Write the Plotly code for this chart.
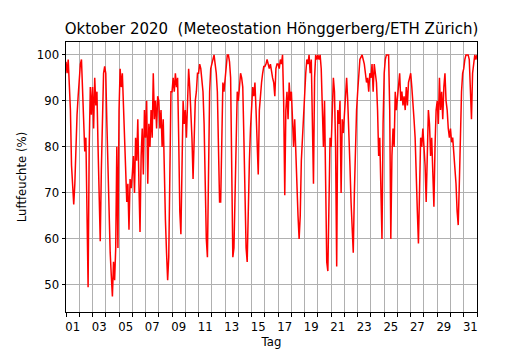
import numpy as np
import plotly.graph_objects as go

# Relative humidity (%) at 2-hour steps, Oct 1 00:00 ... Nov 1 00:00 (12 values per day)
humidity = [
    98.5, 96, 99, 93, 88, 76, 70, 67.5, 72, 82, 87, 91,            # 01
    95, 98, 99, 93, 84, 79, 82, 68, 49.5, 80, 93, 87,              # 02
    93, 84, 95, 89, 92, 80, 70, 59.5, 75, 90, 96, 97.5,            # 03
    96, 85, 75, 63, 57, 52, 47.5, 55, 51, 58, 80, 58,              # 04
    88, 97, 93, 96, 88, 84, 76, 68, 72, 62, 73, 71,                # 05
    74, 78, 70, 82, 77, 86, 72, 61.5, 78, 84, 74, 88,              # 06
    82, 90, 72, 85, 80, 88, 82, 96, 86, 90, 84, 91,                # 07
    90, 84, 88, 80, 86, 72, 64, 57, 51, 56, 78, 92,                # 08
    92, 95, 92, 96, 93, 95, 82, 66, 61, 78, 90, 85,                # 09
    88, 82, 92, 97, 93, 88, 82, 73, 80, 90, 92, 96,                # 10
    96, 98, 97, 95, 92, 85, 70, 60, 56, 72, 92, 97,                # 11
    98, 99, 100, 98, 96, 92, 80, 68, 68, 84, 94, 92,               # 12
    95, 97, 100, 100, 98.5, 95, 80, 56, 58, 72, 87, 92,            # 13
    90, 94, 96, 95, 93, 82, 70, 58, 55, 70, 77, 84,                # 14
    88, 93, 91, 94, 88, 80, 74, 88, 92, 94, 96, 97.5,              # 15
    97.5, 98, 99, 98, 97, 98, 96, 95, 94, 91, 97, 98,              # 16
    98, 97, 99, 98, 100, 90, 69.5, 88, 92, 86, 94, 90,             # 17
    92, 85, 80, 86, 78, 72, 65, 60, 65, 77, 82, 88,                # 18
    92, 96, 99, 98, 100, 96, 99, 85, 72, 95, 100, 99,              # 19
    100, 99, 100, 97, 86, 80, 90, 72, 55, 53, 70, 82,              # 20
    80, 90, 95, 92, 80, 54, 88, 85, 90, 70, 86, 83,                # 21
    88, 92, 95, 90, 84, 76, 68, 60, 57, 70, 80, 88,                # 22
    92, 97, 99, 99.5, 100, 99, 98, 96, 94, 95, 92, 96,             # 23
    95, 98, 92, 98, 96, 94, 88, 78, 82, 70, 60, 85,                # 24
    96, 99, 100, 100, 100, 88, 60, 78, 84, 80, 92, 88,             # 25
    91, 94, 96, 90, 92, 89, 91, 88, 93, 89, 94, 95,                # 26
    96, 93, 88, 86, 82, 76, 66, 59, 72, 82, 80, 84,                # 27
    80, 76, 68, 82, 88, 85, 78, 82, 74, 67, 80, 88,                # 28
    90, 85, 95, 88, 92, 86, 93, 96, 90, 88, 84, 82,                # 29
    84, 81, 82, 79, 76, 72, 66, 63, 72, 85, 92, 96,                # 30
    97, 99, 100, 100, 100, 99, 92, 86, 96, 99, 100, 99,            # 31
    100,
]
samples_per_day = 12

day_label_pos = [0.5 + 2 * k for k in range(16)]
day_labels = ["01", "03", "05", "07", "09", "11", "13", "15",
              "17", "19", "21", "23", "25", "27", "29", "31"]
y_ticks = [50, 60, 70, 80, 90, 100]

t = np.arange(len(humidity)) / samples_per_day

fig = go.Figure()
fig.add_trace(go.Scatter(x=t, y=humidity, mode="lines",
                         line=dict(color="#ff0000", width=1.5),
                         hoverinfo="skip", showlegend=False))

# page body has an 8px margin, so the figure is laid out 8px smaller/offset
W, H = 522, 342
grid = "#b0b0b0"
font = "DejaVu Sans, Verdana, sans-serif"
fig.update_layout(
    width=W, height=H,
    margin=dict(l=58, r=53, t=34, b=38, autoexpand=False),
    paper_bgcolor="white", plot_bgcolor="white",
    font=dict(family=font, size=11.7, color="black"),
    title=dict(text="Oktober 2020  (Meteostation Hönggerberg/ETH Zürich)",
               x=(58 + 469) / 2 / W, xanchor="center",
               y=1 - 21 / H, yanchor="middle",
               font=dict(size=15, color="black")),
    xaxis=dict(range=[0, 31], tickvals=day_label_pos, ticktext=day_labels,
               ticks="outside", ticklen=3.5, tickcolor="rgba(0,0,0,0)",
               showgrid=False, zeroline=False,
               showline=True, mirror=True, linecolor="black", linewidth=1,
               minor=dict(tick0=0, dtick=1, ticks="outside", ticklen=3.5,
                          tickcolor="black", tickwidth=0.8,
                          showgrid=True, gridcolor=grid, gridwidth=0.8),
               title=dict(text="Tag", standoff=5, font=dict(size=11.7))),
    yaxis=dict(range=[44.1, 102.8], tickvals=y_ticks,
               ticks="outside", ticklen=3.5, tickcolor="black", tickwidth=0.8,
               showgrid=True, gridcolor=grid, gridwidth=0.8, zeroline=False,
               showline=True, mirror=True, linecolor="black", linewidth=1,
               title=dict(text="Luftfeuchte (%)", standoff=7, font=dict(size=11.7))),
)

fig.write_html("out.html")
